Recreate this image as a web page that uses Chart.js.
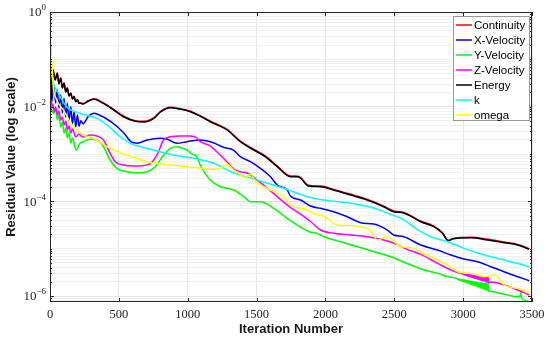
<!DOCTYPE html>
<html>
<head>
<meta charset="utf-8">
<script src="https://cdn.jsdelivr.net/npm/chart.js@4.4.0/dist/chart.umd.min.js"></script>
<style>
  html, body { margin: 0; padding: 0; background: #ffffff; }
  #wrap { width: 550px; height: 343px; }
</style>
</head>
<body>
<div id="wrap"><canvas id="c" width="550" height="343"></canvas></div>
<script>
// ---- DATA: [iteration, log10(residual)] ----
const seriesNames = ['Continuity', 'X-Velocity', 'Y-Velocity', 'Z-Velocity', 'Energy', 'k', 'omega'];
const seriesColors = ['#ff0000', '#0000ff', '#00ff00', '#ff00ff', '#000000', '#00ffff', '#ffff00'];

const xTickValues = [0, 500, 1000, 1500, 2000, 2500, 3000, 3500];
const yTickExponents = [0, -2, -4, -6];

const continuity = [[0,0],[8,-1.85],[22,-1.22],[37,-1.43],[53,-1.29],[65,-1.51],[78,-1.39],[90,-1.60],[102,-1.50],[114,-1.68],[126,-1.60],[138,-1.77],[151,-1.71],[163,-1.83],[175,-1.78],[187,-1.89],[199,-1.85],[211,-1.92],[223,-1.92],[240,-1.935],[280,-1.87],[320,-1.835],[380,-1.91],[442,-2.018],[538,-2.205],[611,-2.29],[684,-2.31],[757,-2.228],[805,-2.095],[873,-2.012],[940,-2.04],[1019,-2.095],[1090,-2.19],[1164,-2.305],[1286,-2.48],[1382,-2.725],[1455,-2.86],[1577,-3.07],[1650,-3.255],[1746,-3.465],[1795,-3.468],[1819,-3.495],[1877,-3.662],[1965,-3.678],[2059,-3.748],[2183,-3.852],[2304,-3.958],[2423,-4.1],[2496,-4.205],[2569,-4.235],[2692,-4.418],[2787,-4.522],[2850,-4.662],[2891,-4.82],[2932,-4.778],[3056,-4.757],[3178,-4.803],[3296,-4.86],[3396,-4.91],[3480,-5.0]];

const xVelocity = [[0,-0.25],[8,-1.95],[29,-1.578],[41,-1.923],[53,-1.648],[65,-2.028],[78,-1.754],[90,-2.134],[102,-1.824],[114,-2.218],[126,-1.929],[138,-2.303],[151,-2.0],[163,-2.366],[175,-2.106],[187,-2.43],[199,-2.176],[211,-2.42],[223,-2.3],[240,-2.36],[280,-2.2],[320,-2.14],[342,-2.155],[442,-2.318],[538,-2.563],[587,-2.74],[633,-2.774],[706,-2.704],[800,-2.669],[849,-2.683],[922,-2.774],[995,-2.74],[1091,-2.704],[1186,-2.761],[1259,-2.859],[1332,-2.916],[1382,-3.057],[1455,-3.163],[1528,-3.302],[1601,-3.48],[1650,-3.655],[1722,-3.761],[1746,-3.888],[1819,-3.972],[1892,-4.099],[1965,-4.148],[2059,-4.219],[2159,-4.325],[2256,-4.452],[2350,-4.479],[2450,-4.606],[2496,-4.712],[2569,-4.748],[2692,-4.923],[2814,-5.029],[2911,-5.134],[3005,-5.219],[3105,-5.276],[3202,-5.381],[3296,-5.487],[3396,-5.593],[3480,-5.677]];

const yVelocity = [[0,-0.5],[5,-1.929],[29,-2.14],[40,-2.03],[53,-2.28],[65,-2.176],[78,-2.43],[90,-2.324],[102,-2.556],[114,-2.451],[126,-2.662],[138,-2.556],[151,-2.768],[163,-2.662],[190,-2.916],[218,-2.774],[242,-2.74],[291,-2.69],[340,-2.704],[388,-2.846],[437,-3.127],[485,-3.302],[558,-3.374],[631,-3.395],[703,-3.374],[764,-3.269],[825,-3.021],[873,-2.88],[922,-2.846],[946,-2.863],[995,-2.916],[1030,-3.0],[1067,-3.064],[1091,-3.233],[1164,-3.55],[1237,-3.691],[1286,-3.725],[1334,-3.761],[1407,-3.902],[1455,-4.008],[1528,-4.008],[1625,-4.148],[1722,-4.359],[1819,-4.543],[1880,-4.642],[1940,-4.676],[1989,-4.748],[2110,-4.853],[2232,-4.959],[2353,-5.064],[2474,-5.17],[2620,-5.345],[2717,-5.451],[2814,-5.521],[2887,-5.593],
  [2960,-5.641],[2965,-5.657],[2970,-5.646],[2975,-5.668],[2980,-5.650],[2985,-5.679],[2990,-5.655],[2995,-5.689],[3000,-5.660],[3005,-5.700],[3010,-5.664],[3015,-5.711],[3020,-5.669],[3025,-5.722],[3030,-5.673],[3035,-5.732],[3040,-5.678],[3045,-5.743],[3050,-5.683],[3055,-5.754],[3060,-5.687],[3065,-5.765],[3070,-5.692],[3075,-5.775],[3080,-5.696],[3085,-5.786],[3090,-5.701],[3095,-5.797],[3100,-5.705],[3105,-5.808],[3110,-5.710],[3115,-5.819],[3120,-5.715],[3125,-5.829],[3130,-5.719],[3135,-5.840],[3140,-5.724],[3145,-5.851],[3150,-5.728],[3155,-5.861],[3160,-5.733],[3165,-5.872],[3170,-5.738],[3175,-5.883],[3180,-5.742],[3185,-5.894],[3190,-5.899],
  [3293,-5.958],[3390,-6.015],[3415,-6.0],[3419,-5.92],[3423,-6.03],[3480,-6.12]];

const zVelocity = [[0,-0.5],[5,-2.007],[20,-1.944],[30,-2.113],[41,-2.007],[53,-2.176],[65,-2.092],[78,-2.282],[90,-2.218],[102,-2.387],[114,-2.303],[126,-2.493],[138,-2.409],[151,-2.556],[163,-2.472],[187,-2.641],[211,-2.578],[235,-2.641],[291,-2.599],[340,-2.62],[388,-2.704],[437,-2.985],[473,-3.163],[534,-3.233],[631,-3.254],[728,-3.197],[777,-3.021],[825,-2.704],[873,-2.635],[946,-2.62],[1019,-2.62],[1067,-2.662],[1091,-2.74],[1164,-2.831],[1213,-2.958],[1286,-3.169],[1334,-3.317],[1382,-3.374],[1431,-3.402],[1504,-3.55],[1577,-3.718],[1650,-3.902],[1746,-4.131],[1819,-4.268],[1892,-4.426],[1965,-4.606],[2062,-4.676],[2183,-4.712],[2304,-4.748],[2402,-4.802],[2499,-4.887],[2596,-5.02],[2692,-5.12],[2814,-5.31],[2911,-5.451],[2960,-5.504],
  [3000,-5.536],[3005,-5.551],[3010,-5.539],[3015,-5.561],[3020,-5.542],[3025,-5.570],[3030,-5.546],[3035,-5.580],[3040,-5.549],[3045,-5.589],[3050,-5.552],[3055,-5.599],[3060,-5.556],[3065,-5.608],[3070,-5.559],[3075,-5.618],[3080,-5.562],[3085,-5.627],[3090,-5.566],[3095,-5.637],[3100,-5.569],[3105,-5.646],[3110,-5.572],[3115,-5.656],[3120,-5.576],[3125,-5.666],[3130,-5.579],[3135,-5.675],[3140,-5.582],[3145,-5.685],[3150,-5.586],[3155,-5.694],[3160,-5.589],[3165,-5.704],[3170,-5.592],[3175,-5.713],[3180,-5.596],[3185,-5.723],
  [3205,-5.705],[3298,-5.768],[3396,-5.874],[3480,-5.98]];

const energy = [[0,0],[8,-1.86],[22,-1.225],[37,-1.437],[53,-1.295],[65,-1.521],[78,-1.401],[90,-1.606],[102,-1.507],[114,-1.69],[126,-1.613],[138,-1.775],[151,-1.719],[163,-1.838],[175,-1.79],[187,-1.90],[199,-1.859],[211,-1.93],[223,-1.93],[240,-1.944],[280,-1.88],[320,-1.845],[380,-1.92],[442,-2.028],[538,-2.218],[611,-2.303],[684,-2.324],[757,-2.24],[805,-2.106],[873,-2.022],[940,-2.05],[1019,-2.106],[1090,-2.2],[1164,-2.318],[1286,-2.493],[1382,-2.74],[1455,-2.873],[1577,-3.085],[1650,-3.268],[1746,-3.48],[1795,-3.48],[1819,-3.507],[1877,-3.676],[1965,-3.691],[2059,-3.761],[2183,-3.866],[2304,-3.972],[2423,-4.114],[2496,-4.219],[2569,-4.247],[2692,-4.431],[2787,-4.536],[2850,-4.676],[2891,-4.832],[2932,-4.79],[3056,-4.769],[3178,-4.817],[3296,-4.874],[3396,-4.923],[3480,-5.014]];

const kSeries = [[0,-0.577],[6,-1.1],[20,-1.45],[49,-1.648],[120,-2.0],[218,-2.14],[340,-2.246],[413,-2.387],[510,-2.635],[582,-2.774],[703,-2.88],[897,-3.021],[1043,-3.091],[1188,-3.197],[1334,-3.40],[1455,-3.507],[1696,-3.725],[1868,-3.902],[1989,-3.972],[2183,-4.042],[2354,-4.148],[2450,-4.253],[2571,-4.395],[2655,-4.57],[2765,-4.748],[2887,-4.853],[3007,-4.993],[3153,-5.134],[3298,-5.24],[3420,-5.331],[3480,-5.381]];

const omega = [[0,-0.676],[12,-1.014],[24,-1.578],[49,-1.859],[97,-2.07],[146,-2.318],[194,-2.493],[242,-2.599],[315,-2.669],[413,-2.846],[510,-2.973],[606,-3.07],[703,-3.163],[800,-3.211],[946,-3.254],[1091,-3.296],[1164,-3.328],[1237,-3.296],[1286,-3.22],[1334,-3.338],[1382,-3.444],[1419,-3.497],[1455,-3.423],[1492,-3.585],[1552,-3.691],[1601,-3.761],[1698,-3.902],[1746,-4.078],[1843,-4.162],[1916,-4.258],[1989,-4.311],[2086,-4.5],[2183,-4.511],[2256,-4.543],[2329,-4.627],[2377,-4.817],[2450,-4.747],[2498,-4.853],[2547,-4.959],[2620,-4.976],[2692,-5.071],[2814,-5.24],[2887,-5.346],[2960,-5.487],[3056,-5.521],[3153,-5.593],[3226,-5.557],[3298,-5.768],[3395,-5.838],[3480,-5.931]];

const seriesData = [continuity, xVelocity, yVelocity, zVelocity, energy, kSeries, omega];

// ---- build chart ----
const toPoints = arr => arr.map(p => ({ x: p[0], y: Math.pow(10, p[1]) }));

const datasets = seriesNames.map((name, i) => ({
  label: name,
  data: toPoints(seriesData[i]),
  borderColor: seriesColors[i],
  backgroundColor: seriesColors[i],
  borderWidth: 1.5,
  pointRadius: 0,
  fill: false,
  cubicInterpolationMode: 'monotone',
  order: seriesNames.length - 1 - i   // later series drawn on top (as in the source)
}));

const AXIS_COLOR = '#262626';
const SERIF = '"Liberation Serif", "Times New Roman", serif';
const SANS = '"Liberation Sans", Arial, Helvetica, sans-serif';

const decorations = {
  id: 'decorations',
  afterDatasetsDraw(chart) {
    const { ctx, chartArea: a, scales } = chart;
    const xs = scales.x, ys = scales.y;
    ctx.save();
    // box
    ctx.strokeStyle = AXIS_COLOR;
    ctx.lineWidth = 1;
    ctx.strokeRect(Math.round(a.left) + 0.5, Math.round(a.top) + 0.5,
                   Math.round(a.right - a.left) - 1, Math.round(a.bottom - a.top) - 1);
    // inward tick marks
    ctx.beginPath();
    xTickValues.forEach(v => {
      const px = Math.round(xs.getPixelForValue(v)) + 0.5;
      ctx.moveTo(px, a.bottom); ctx.lineTo(px, a.bottom - 4);
      ctx.moveTo(px, a.top); ctx.lineTo(px, a.top + 4);
    });
    ys.ticks.forEach(t => {
      const lg = Math.log10(t.value);
      const major = yTickExponents.some(e => Math.abs(e - lg) < 1e-6);
      const L = major ? 4 : 2;
      const py = Math.round(ys.getPixelForValue(t.value)) + 0.5;
      ctx.moveTo(a.left, py); ctx.lineTo(a.left + L, py);
      ctx.moveTo(a.right, py); ctx.lineTo(a.right - L, py);
    });
    ctx.stroke();

    // y tick labels: 10 with superscript exponent
    ctx.fillStyle = AXIS_COLOR;
    ctx.textBaseline = 'middle';
    yTickExponents.forEach(e => {
      const py = ys.getPixelForValue(Math.pow(10, e));
      const expText = e === 0 ? '0' : '\u2212' + Math.abs(e);
      ctx.font = '9px ' + SERIF;
      const ew = ctx.measureText(expText).width;
      const right = a.left - 4;
      ctx.textAlign = 'left';
      ctx.fillText(expText, right - ew, py - 4);
      ctx.font = '13px ' + SERIF;
      ctx.textAlign = 'right';
      ctx.fillText('10', right - ew, py + 1);
    });

    // legend box (top-right, inside the axes)
    const lx = 453, ly = 16, lw = 76, lh = 104;
    ctx.fillStyle = '#ffffff';
    ctx.fillRect(lx, ly, lw, lh);
    ctx.strokeStyle = '#9a9a9a';
    ctx.lineWidth = 1;
    ctx.strokeRect(lx + 0.5, ly + 0.5, lw, lh);
    ctx.font = '11.5px ' + SANS;
    ctx.textAlign = 'left';
    ctx.textBaseline = 'middle';
    chart.data.datasets.forEach((ds, i) => {
      const yy = ly + 9 + i * 15;
      ctx.strokeStyle = ds.borderColor;
      ctx.lineWidth = 1.5;
      ctx.beginPath();
      ctx.moveTo(lx + 3, yy); ctx.lineTo(lx + 19, yy);
      ctx.stroke();
      ctx.fillStyle = '#000000';
      ctx.fillText(ds.label, lx + 21, yy + 0.5);
    });
    ctx.restore();
  }
};

new Chart(document.getElementById('c'), {
  type: 'line',
  data: { datasets },
  options: {
    responsive: false,
    animation: false,
    events: [],
    layout: { padding: { top: 12, right: 18, left: 0, bottom: 0 } },
    plugins: { legend: { display: false }, tooltip: { enabled: false } },
    scales: {
      x: {
        type: 'linear',
        min: 0, max: 3500,
        afterBuildTicks: s => { s.ticks = xTickValues.map(v => ({ value: v })); },
        afterFit: s => { s.height = 41; },
        ticks: {
          autoSkip: false, maxRotation: 0, padding: 5,
          color: AXIS_COLOR,
          font: { family: SERIF, size: 12.5 },
          callback: v => String(v)
        },
        grid: { color: '#e6e6e6', lineWidth: 1, drawTicks: false },
        border: { display: false },
        title: {
          display: true, text: 'Iteration Number', color: '#1a1a1a',
          font: { family: SANS, size: 13, weight: 'bold' },
          padding: { top: 0, bottom: 6 }
        }
      },
      y: {
        type: 'logarithmic',
        min: 7.47e-7, max: 1,
        afterBuildTicks: s => {
          const t = [];
          for (let k = -7; k <= 0; k++) {
            for (let m = 1; m <= 9; m++) {
              const v = m * Math.pow(10, k);
              if (v >= s.min * 0.999 && v <= s.max * 1.001) t.push({ value: v });
            }
          }
          s.ticks = t;
        },
        afterFit: s => { s.width = 50; },
        ticks: { display: false, autoSkip: false },
        grid: {
          drawTicks: false,
          lineWidth: 1,
          color: c => {
            const lg = Math.log10(c.tick.value);
            return yTickExponents.some(e => Math.abs(e - lg) < 1e-6) ? '#e2e2e2' : '#f1f1f1';
          }
        },
        border: { display: false },
        title: {
          display: true, text: 'Residual Value (log scale)', color: '#1a1a1a',
          font: { family: SANS, size: 13, weight: 'bold' },
          padding: { top: 4, bottom: 0 }
        }
      }
    }
  },
  plugins: [decorations]
});
</script>
</body>
</html>
